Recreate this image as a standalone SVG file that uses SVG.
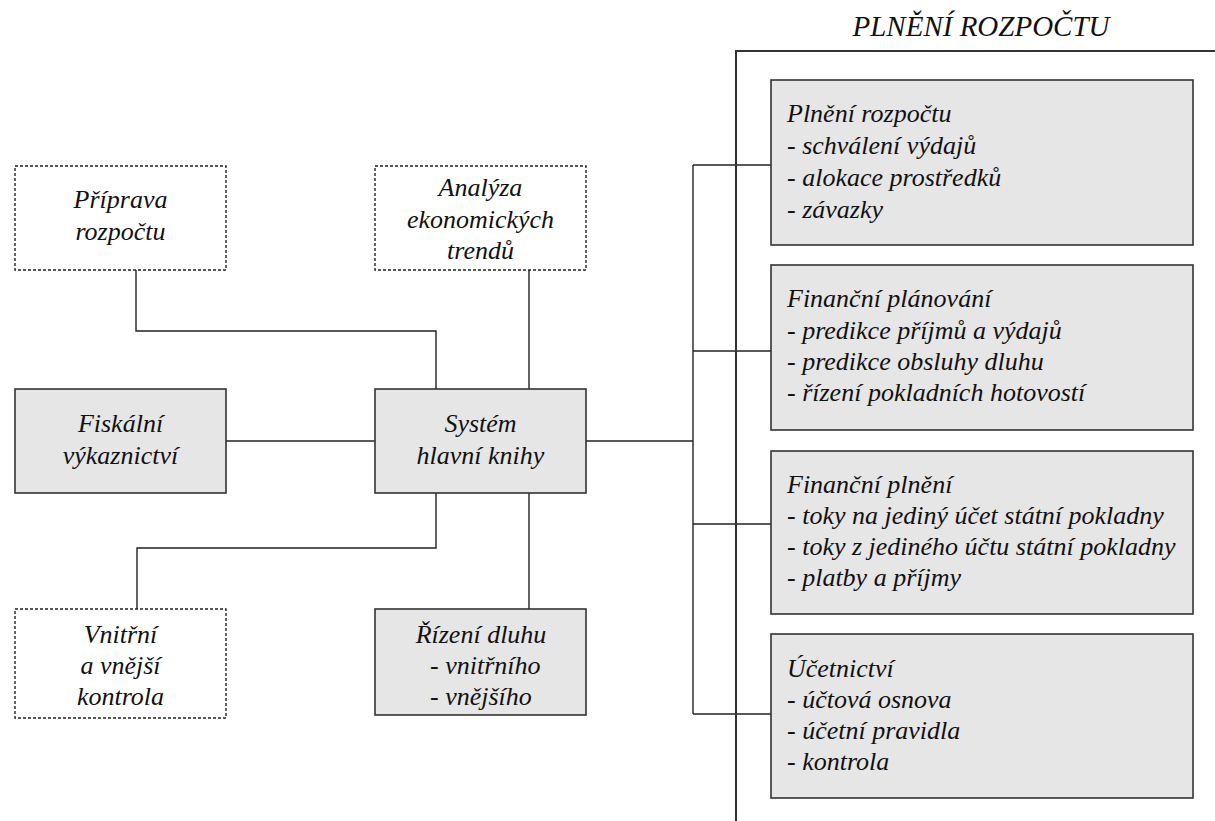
<svg xmlns="http://www.w3.org/2000/svg" width="1215" height="821" viewBox="0 0 1215 821">
<style>
  .bg { fill: #ffffff; }
  .solid { fill: #e6e6e6; stroke: #333333; stroke-width: 1.6; }
  .dashed { fill: #ffffff; stroke: #222222; stroke-width: 1.4; stroke-dasharray: 3 2; }
  .line { fill: none; stroke: #222222; stroke-width: 1.4; }
  .frame { fill: none; stroke: #333333; stroke-width: 2; }
  .t text { font-size: 26px; fill: #111111; }
  .c { text-anchor: middle; }
  .t .title { font-size: 29px; }
</style>
<rect class="bg" x="0" y="0" width="1215" height="821"/>

<g id="connectors">
  <polyline class="line" points="136,270 136,331 436,331 436,389"/>
  <line class="line" x1="529" y1="270" x2="529" y2="389"/>
  <line class="line" x1="226" y1="441" x2="375" y2="441"/>
  <polyline class="line" points="436,493 436,548 137,548 137,609"/>
  <line class="line" x1="529" y1="493" x2="529" y2="609"/>
  <line class="line" x1="586" y1="441" x2="693" y2="441"/>
  <line class="line" x1="693" y1="165" x2="693" y2="714"/>
  <line class="line" x1="693" y1="165" x2="771" y2="165"/>
  <line class="line" x1="693" y1="351" x2="771" y2="351"/>
  <line class="line" x1="693" y1="524" x2="771" y2="524"/>
  <line class="line" x1="693" y1="714" x2="771" y2="714"/>
</g>

<g class="t" font-family="Liberation Serif, DejaVu Serif, serif" font-style="italic">
<g id="frame">
  <polyline class="frame" points="736,821 736,51 1215,51"/>
  <text class="title c" x="981" y="36">PLNĚNÍ ROZPOČTU</text>
</g>

<g id="priprava">
  <rect class="dashed" x="15" y="166" width="211" height="104"/>
  <text class="c" x="120.5" y="208">Příprava</text>
  <text class="c" x="120.5" y="240">rozpočtu</text>
</g>

<g id="analyza">
  <rect class="dashed" x="375" y="166" width="211" height="104"/>
  <text class="c" x="480.5" y="196">Analýza</text>
  <text class="c" x="480.5" y="228">ekonomických</text>
  <text class="c" x="480.5" y="259">trendů</text>
</g>

<g id="fiskalni">
  <rect class="solid" x="15" y="389" width="211" height="104"/>
  <text class="c" x="120.5" y="432">Fiskální</text>
  <text class="c" x="120.5" y="464">výkaznictví</text>
</g>

<g id="system">
  <rect class="solid" x="375" y="389" width="211" height="104"/>
  <text class="c" x="480.5" y="432">Systém</text>
  <text class="c" x="480.5" y="464">hlavní knihy</text>
</g>

<g id="vnitrni">
  <rect class="dashed" x="15" y="609" width="211" height="109"/>
  <text class="c" x="120.5" y="643">Vnitřní</text>
  <text class="c" x="120.5" y="674">a vnější</text>
  <text class="c" x="120.5" y="705">kontrola</text>
</g>

<g id="rizeni">
  <rect class="solid" x="375" y="609" width="211" height="106"/>
  <text class="c" x="481" y="643">Řízení dluhu</text>
  <text x="430" y="674">- vnitřního</text>
  <text x="430" y="705">- vnějšího</text>
</g>

<g id="plneni">
  <rect class="solid" x="771" y="80" width="422" height="165"/>
  <text x="787" y="122">Plnění rozpočtu</text>
  <text x="787" y="154">- schválení výdajů</text>
  <text x="787" y="186">- alokace prostředků</text>
  <text x="787" y="218">- závazky</text>
</g>

<g id="planovani">
  <rect class="solid" x="771" y="265" width="422" height="165"/>
  <text x="787" y="307">Finanční plánování</text>
  <text x="787" y="339">- predikce příjmů a výdajů</text>
  <text x="787" y="370">- predikce obsluhy dluhu</text>
  <text x="787" y="401">- řízení pokladních hotovostí</text>
</g>

<g id="financni-plneni">
  <rect class="solid" x="771" y="451" width="422" height="163"/>
  <text x="787" y="493">Finanční plnění</text>
  <text x="787" y="524">- toky na jediný účet státní pokladny</text>
  <text x="787" y="555">- toky z jediného účtu státní pokladny</text>
  <text x="787" y="586">- platby a příjmy</text>
</g>

<g id="ucetnictvi">
  <rect class="solid" x="771" y="634" width="422" height="164"/>
  <text x="787" y="677">Účetnictví</text>
  <text x="787" y="708">- účtová osnova</text>
  <text x="787" y="739">- účetní pravidla</text>
  <text x="787" y="770">- kontrola</text>
</g>
</g>
</svg>
